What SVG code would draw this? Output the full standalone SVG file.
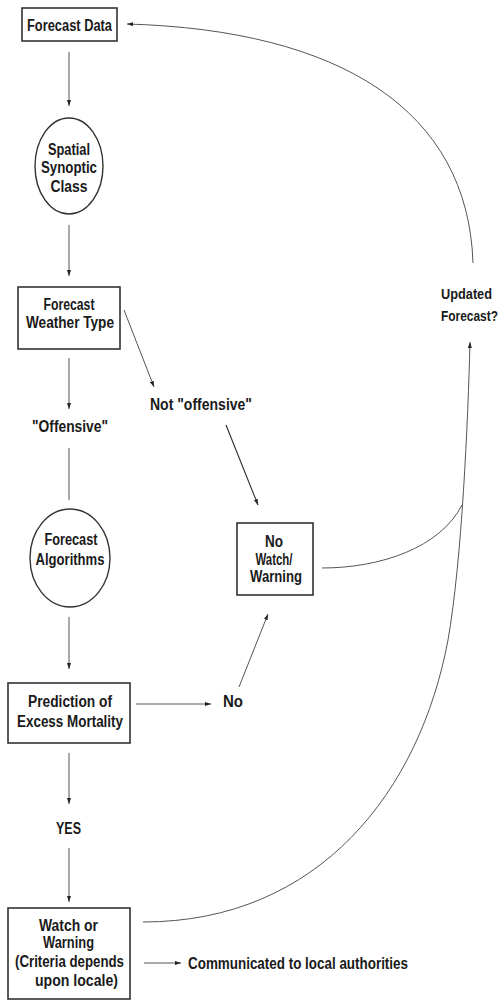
<svg xmlns="http://www.w3.org/2000/svg" width="503" height="1000" viewBox="0 0 503 1000">
<style>
.box{fill:#fff;stroke:#333;stroke-width:1.6}
.ell{fill:#fff;stroke:#333;stroke-width:1.4}
.t{font-family:"Liberation Sans Narrow","Liberation Sans",Arial,sans-serif;font-weight:bold;font-size:16px;fill:#1a1a1a}
.s{font-size:15px}
.c{text-anchor:middle}
.e{text-anchor:end}
.ln{fill:none;stroke:#555;stroke-width:1}
.ln2{fill:none;stroke:#333;stroke-width:1.2}
</style>
<defs>
<marker id="ah" viewBox="0 0 6 4" refX="6" refY="2" markerWidth="6" markerHeight="4" markerUnits="userSpaceOnUse" orient="auto">
<path d="M0,0 L6,2 L0,4 Z" fill="#222"/>
</marker>
</defs>
<rect width="503" height="1000" fill="#fff"/>
<g id="connectors">
<line class="ln" x1="69" y1="52" x2="69" y2="106" marker-end="url(#ah)"/>
<line class="ln" x1="69" y1="225" x2="69" y2="276" marker-end="url(#ah)"/>
<line class="ln" x1="124" y1="310" x2="154" y2="387" marker-end="url(#ah)"/>
<line class="ln" x1="69" y1="358" x2="69" y2="409" marker-end="url(#ah)"/>
<line class="ln2" x1="226" y1="425" x2="258" y2="505" marker-end="url(#ah)"/>
<line class="ln" x1="69" y1="448" x2="69" y2="500"/>
<line class="ln" x1="69" y1="617" x2="69" y2="669" marker-end="url(#ah)"/>
<line class="ln" x1="136" y1="704" x2="211" y2="704" marker-end="url(#ah)"/>
<line class="ln" x1="239" y1="687" x2="268" y2="614" marker-end="url(#ah)"/>
<line class="ln" x1="69" y1="753" x2="69" y2="804" marker-end="url(#ah)"/>
<line class="ln" x1="69" y1="848" x2="69" y2="902" marker-end="url(#ah)"/>
<line class="ln" x1="144" y1="963" x2="181" y2="963" marker-end="url(#ah)"/>
<path class="ln" d="M473,263 C468,110 340,30 127,24" marker-end="url(#ah)"/>
<path class="ln" d="M143,922 C320,922 420,790 448,640 C462,560 468,420 470,342" marker-end="url(#ah)"/>
<path class="ln" d="M322,568 C380,568 440,548 462,505"/>
</g>
<g id="forecast-data">
<rect class="box" x="22" y="8" width="95" height="33"/>
<text class="t c" x="69.5" y="31" textLength="85" lengthAdjust="spacingAndGlyphs">Forecast Data</text>
</g>
<g id="spatial-synoptic-class">
<ellipse class="ell" cx="69" cy="166" rx="34" ry="48"/>
<text class="t c" x="69" y="155" textLength="42" lengthAdjust="spacingAndGlyphs">Spatial</text>
<text class="t c" x="69" y="173" textLength="56" lengthAdjust="spacingAndGlyphs">Synoptic</text>
<text class="t c" x="69" y="192" textLength="37" lengthAdjust="spacingAndGlyphs">Class</text>
</g>
<g id="forecast-weather-type">
<rect class="box" x="18" y="287" width="102" height="62"/>
<text class="t c" x="69" y="310" textLength="51" lengthAdjust="spacingAndGlyphs">Forecast</text>
<text class="t c" x="70" y="328" textLength="88" lengthAdjust="spacingAndGlyphs">Weather Type</text>
</g>
<g id="label-not-offensive">
<text class="t" x="150" y="410" textLength="102" lengthAdjust="spacingAndGlyphs">Not "offensive"</text>
</g>
<g id="label-offensive">
<text class="t c" x="70" y="432" textLength="76" lengthAdjust="spacingAndGlyphs">"Offensive"</text>
</g>
<g id="updated-forecast">
<text class="t s" x="441" y="299" textLength="51" lengthAdjust="spacingAndGlyphs">Updated</text>
<text class="t s e" x="498" y="321" textLength="57" lengthAdjust="spacingAndGlyphs">Forecast?</text>
</g>
<g id="forecast-algorithms">
<ellipse class="ell" cx="70" cy="558" rx="40" ry="49"/>
<text class="t c" x="71" y="545" textLength="53" lengthAdjust="spacingAndGlyphs">Forecast</text>
<text class="t c" x="70" y="565" textLength="69" lengthAdjust="spacingAndGlyphs">Algorithms</text>
</g>
<g id="no-watch-warning">
<rect class="box" x="237" y="523" width="76" height="72"/>
<text class="t c" x="274" y="547" textLength="18" lengthAdjust="spacingAndGlyphs">No</text>
<text class="t c" x="274" y="565" textLength="37" lengthAdjust="spacingAndGlyphs">Watch/</text>
<text class="t c" x="276" y="582" textLength="52" lengthAdjust="spacingAndGlyphs">Warning</text>
</g>
<g id="prediction">
<rect class="box" x="8" y="683" width="122" height="60"/>
<text class="t c" x="70" y="707" textLength="84" lengthAdjust="spacingAndGlyphs">Prediction of</text>
<text class="t c" x="70" y="727" textLength="106" lengthAdjust="spacingAndGlyphs">Excess Mortality</text>
</g>
<g id="label-no">
<text class="t" x="223" y="707" textLength="20" lengthAdjust="spacingAndGlyphs">No</text>
</g>
<g id="label-yes">
<text class="t c" x="68.5" y="834" textLength="25" lengthAdjust="spacingAndGlyphs">YES</text>
</g>
<g id="watch-warning">
<rect class="box" x="8" y="908" width="122" height="91"/>
<text class="t c" x="68.5" y="931" textLength="59" lengthAdjust="spacingAndGlyphs">Watch or</text>
<text class="t c" x="68.5" y="948" textLength="51" lengthAdjust="spacingAndGlyphs">Warning</text>
<text class="t c" x="69.5" y="967" textLength="109" lengthAdjust="spacingAndGlyphs">(Criteria depends</text>
<text class="t c" x="76.5" y="986" textLength="83" lengthAdjust="spacingAndGlyphs">upon locale)</text>
</g>
<g id="label-communicated">
<text class="t" x="188" y="969" textLength="220" lengthAdjust="spacingAndGlyphs">Communicated to local authorities</text>
</g>
</svg>
